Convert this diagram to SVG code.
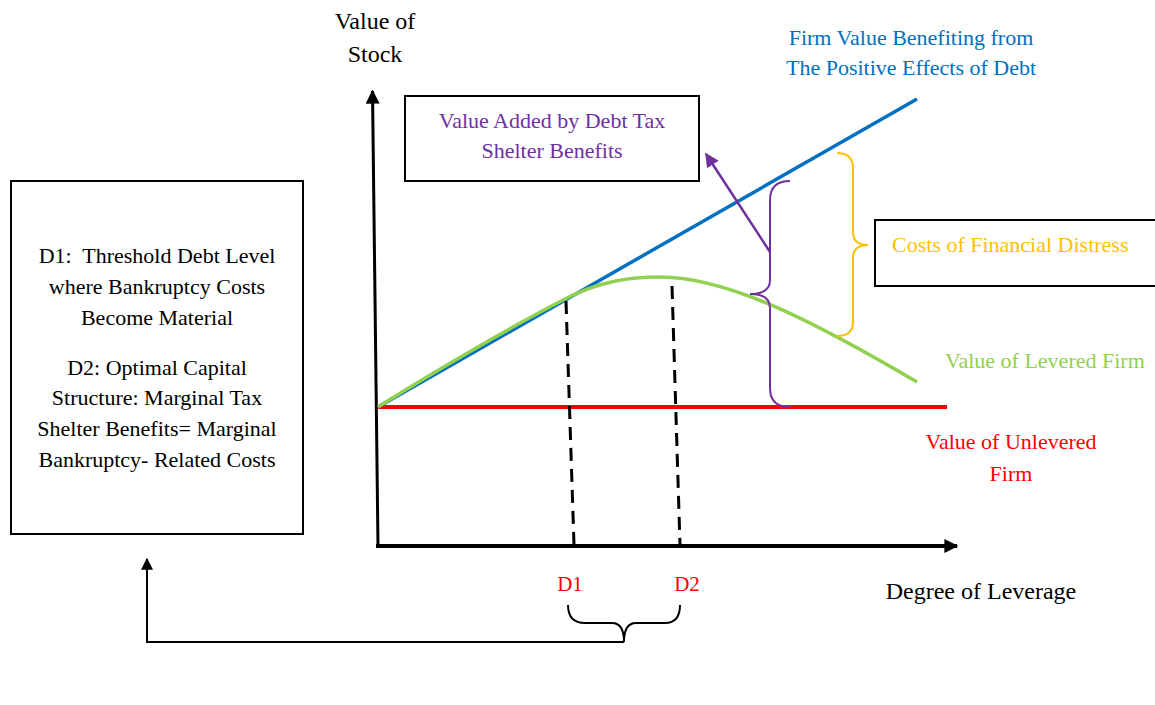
<svg xmlns="http://www.w3.org/2000/svg" width="1155" height="705" viewBox="0 0 1155 705">
<defs>
<style>
text{font-family:"Liberation Serif","Times New Roman",serif;font-size:22px;}
.blk{fill:#000;}
.pur{fill:#7030A0;}
.blu{fill:#0070C0;}
.org{fill:#FFC000;}
.grn{fill:#92D050;}
.red{fill:#FF0000;}
.box{fill:#fff;stroke:#000;stroke-width:2;}
.dash{stroke:#000;stroke-width:3;stroke-dasharray:13 8;fill:none;}
</style>
<marker id="ahBlack" viewBox="0 0 10 10" refX="9" refY="5" markerWidth="12" markerHeight="12" markerUnits="userSpaceOnUse" orient="auto"><path d="M0,0 L10,5 L0,10 z" fill="#000"/></marker>
<marker id="ahBig" viewBox="0 0 10 10" refX="9" refY="5" markerWidth="14" markerHeight="14" markerUnits="userSpaceOnUse" orient="auto"><path d="M0,0 L10,5 L0,10 z" fill="#000"/></marker>
<marker id="ahPurple" viewBox="0 0 10 10" refX="9" refY="5" markerWidth="14" markerHeight="14" markerUnits="userSpaceOnUse" orient="auto"><path d="M0,0 L10,5 L0,10 z" fill="#7030A0"/></marker>
</defs>
<rect width="1155" height="705" fill="#fff"/>

<g id="axes">
<line x1="378" y1="546" x2="372.5" y2="91" stroke="#000" stroke-width="3" marker-end="url(#ahBig)"/>
<line x1="376" y1="546" x2="957" y2="546" stroke="#000" stroke-width="4" marker-end="url(#ahBig)"/>
<text class="blk" x="375" y="29" text-anchor="middle" style="font-size:24px">Value of</text>
<text class="blk" x="375" y="62" text-anchor="middle" style="font-size:24px">Stock</text>
<text class="blk" x="981" y="599" text-anchor="middle" style="font-size:24px">Degree of Leverage</text>
</g>

<g id="curves">
<line x1="378" y1="407" x2="947" y2="407" stroke="#FF0000" stroke-width="4"/>
<line x1="378" y1="407" x2="917" y2="99" stroke="#0070C0" stroke-width="3.5"/>
<path d="M378,407 C440,368 520,322 565,299 C600,281 630,277 660,277 C730,277 820,325 917,382" fill="none" stroke="#92D050" stroke-width="3.5"/>
<path class="dash" d="M566,301 L574,545"/>
<path class="dash" d="M672,286 L680,545"/>
</g>

<g id="node-left">
<rect class="box" x="11" y="181" width="292" height="353"/>
<text class="blk" x="157" y="263" text-anchor="middle" xml:space="preserve">D1:  Threshold Debt Level</text>
<text class="blk" x="157" y="294" text-anchor="middle">where Bankruptcy Costs</text>
<text class="blk" x="157" y="325" text-anchor="middle">Become Material</text>
<text class="blk" x="157" y="375" text-anchor="middle">D2: Optimal Capital</text>
<text class="blk" x="157" y="405" text-anchor="middle">Structure: Marginal Tax</text>
<text class="blk" x="157" y="436" text-anchor="middle">Shelter Benefits= Marginal</text>
<text class="blk" x="157" y="467" text-anchor="middle">Bankruptcy- Related Costs</text>
</g>

<g id="node-taxshelter">
<rect class="box" x="405" y="96" width="294" height="85"/>
<text class="pur" x="552" y="128" text-anchor="middle">Value Added by Debt Tax</text>
<text class="pur" x="552" y="158" text-anchor="middle">Shelter Benefits</text>
</g>

<g id="node-distress">
<rect class="box" x="875" y="220" width="290" height="66"/>
<text class="org" x="892" y="252">Costs of Financial Distress</text>
</g>

<g id="labels">
<text class="blu" x="911" y="45" text-anchor="middle">Firm Value Benefiting from</text>
<text class="blu" x="911" y="75" text-anchor="middle">The Positive Effects of Debt</text>
<text class="grn" x="945" y="368">Value of Levered Firm</text>
<text class="red" x="1011" y="449" text-anchor="middle">Value of Unlevered</text>
<text class="red" x="1011" y="481" text-anchor="middle">Firm</text>
<text class="red" x="570" y="591" text-anchor="middle" style="font-size:21px">D1</text>
<text class="red" x="687" y="591" text-anchor="middle" style="font-size:21px">D2</text>
</g>

<g id="connectors" fill="none">
<path d="M790,181 Q770,181 770,200 L770,280 Q770,294 750,294 Q770,294 770,308 L770,388 Q770,407 790,407" stroke="#7030A0" stroke-width="2"/>
<line x1="770" y1="252" x2="706" y2="154" stroke="#7030A0" stroke-width="2.5" marker-end="url(#ahPurple)"/>
<path d="M837,153 Q853,153 853,168 L853,232 Q853,245 868,245 Q853,245 853,258 L853,322 Q853,336 837,336" stroke="#FFC000" stroke-width="2"/>
<path d="M568,605 Q568,623 585,623 L612,623 Q624,623 624,642 Q624,623 636,623 L665,623 Q680,623 680,605" stroke="#000" stroke-width="2"/>
<path d="M624,642 L147,642 L147,559" stroke="#000" stroke-width="2" marker-end="url(#ahBlack)"/>
</g>
</svg>
